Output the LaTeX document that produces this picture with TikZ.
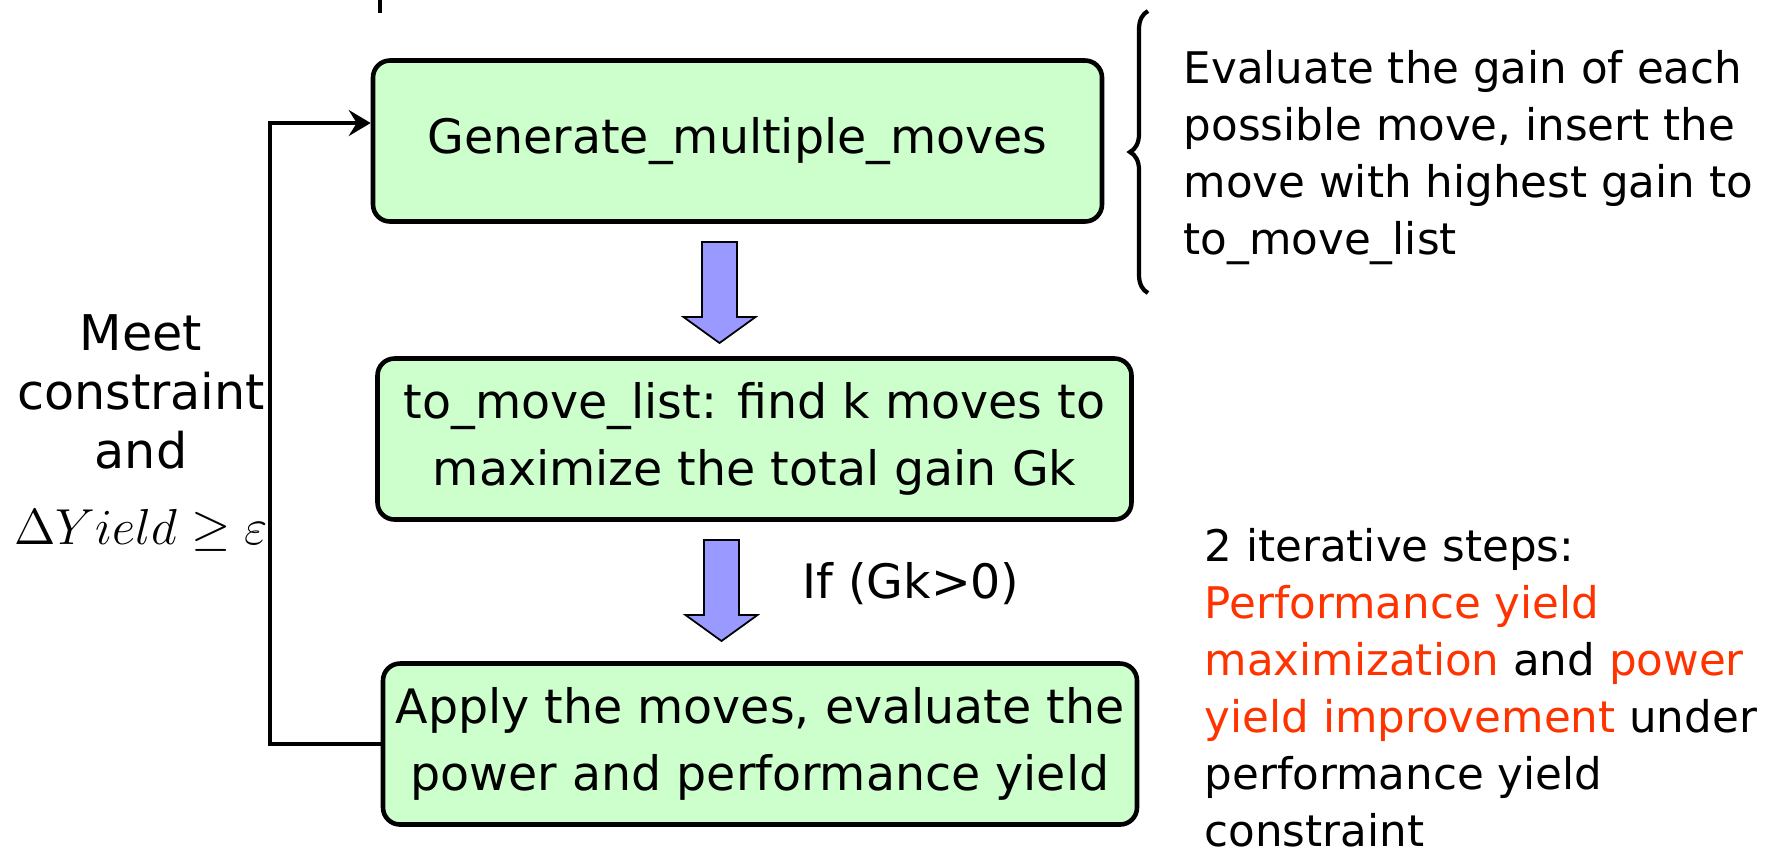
\documentclass[tikz,border=0pt]{standalone}
\usepackage{fontspec}
\setmainfont{DejaVu Sans}
\usetikzlibrary{arrows.meta,decorations.pathreplacing,calc}

\definecolor{boxgreen}{HTML}{CCFFCC}
\definecolor{arrowblue}{HTML}{9999FF}
\definecolor{hlred}{HTML}{FF3300}
\newcommand{\hl}[1]{\textcolor{hlred}{#1}}

\begin{document}
\begin{tikzpicture}[
  every node/.style={font=\fontsize{13.5}{19}\selectfont},
  stepbox/.style={draw,line width=1.3pt,fill=boxgreen,rounded corners=0.17cm,
    align=center,inner sep=0pt,minimum height=1.61cm},
  blockarrow/.style={draw,line width=0.5pt,fill=arrowblue},
  note/.style={align=left,inner sep=0pt,font=\fontsize{12.4}{16.2}\selectfont},
  loopline/.style={line width=1.1pt}
]
\useasboundingbox (0,0) rectangle (17.67,-8.53);
\draw[line width=1.2pt] (3.80,0) -- (3.80,-0.13);

% the three steps
\node[stepbox,minimum width=7.29cm] (gen) at (7.375,-1.41) {Generate\_multiple\_moves};
\node[stepbox,minimum width=7.54cm] (lst) at (7.545,-4.39)
  {to\_move\_list: find k moves to\\maximize the total gain Gk};
\node[stepbox,minimum width=7.54cm] (app) at (7.60,-7.44)
  {Apply the moves, evaluate the\\power and performance yield};

% block arrows between the boxes
\foreach \x/\yt in {7.195/-2.42, 7.215/-5.40}
  \draw[blockarrow] (\x-0.175,\yt) -- (\x+0.175,\yt) -- (\x+0.175,\yt-0.75)
    -- (\x+0.36,\yt-0.75) -- (\x,\yt-1.01) -- (\x-0.36,\yt-0.75)
    -- (\x-0.175,\yt-0.75) -- cycle;
\node (gkcond) at (9.11,-5.84) {If (Gk>0)};

% loop back
\coordinate (back) at (2.70,-7.44);
\draw[loopline,-{Stealth[length=2.2mm,width=2.6mm,inset=0.8mm]}]
  (app.west) -- (back) |- ($(gen.west)+(0,0.18)$);
\node[align=center,font=\fontsize{14}{16.8}\selectfont] (cond) at (1.41,-4.33)
  {Meet\\constraint\\and\\[5pt]$\Delta Yield\geq\varepsilon$};

% notes on the right
\draw[line width=1.2pt,decorate,decoration={brace,amplitude=0.18cm}]
  (11.48,-2.93) -- (11.48,-0.11);
\node[note,anchor=north west] (gainnote) at (11.83,-0.50)
  {Evaluate the gain of each\\possible move, insert the\\move with highest gain to\\to\_move\_list};
\node[note,anchor=north west] (itnote) at (12.04,-5.28)
  {2 iterative steps:\\\hl{Performance yield}\\\hl{maximization} and \hl{power}\\
   \hl{yield improvement} under\\performance yield\\constraint};
\end{tikzpicture}
\end{document}
